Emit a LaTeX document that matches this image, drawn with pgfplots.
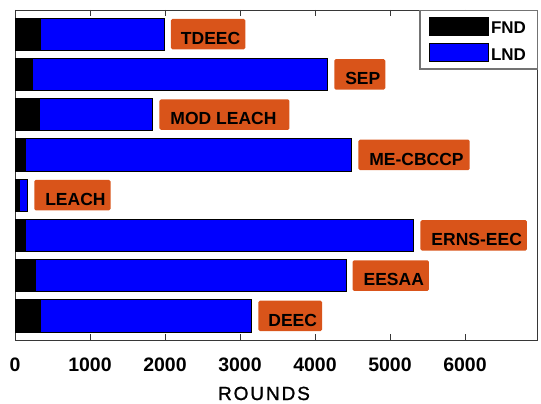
\documentclass[border=0pt]{standalone}
\usepackage{fontspec}
\setmainfont{Liberation Sans}
\newfontfamily\labfont[FakeBold=1.2, LetterSpace=10]{Liberation Sans}
\usepackage{pgfplots}
\pgfplotsset{compat=1.18}
\definecolor{lblorange}{RGB}{217,84,26}
\definecolor{framegray}{RGB}{55,55,55}
\tikzset{lbl/.style={fill=lblorange, inner xsep=0pt, inner ysep=0pt, text height=25.5pt, text depth=5pt,
    font=\bfseries\fontsize{17.5}{18}\selectfont, rounded corners=1.5pt, anchor=west, xshift=6.5pt}}
\begin{document}
\begin{tikzpicture}
\begin{axis}[
  scale only axis, width=522pt, height=330pt,
  xmin=0, xmax=6960, ymin=0.4, ymax=8.6,
  xtick={0,1000,2000,3000,4000,5000,6000}, ytick=\empty,
  xtick pos=both, xticklabel pos=lower,
  tick align=inside, major tick length=6pt,
  scaled ticks=false,
  /pgf/number format/1000 sep={},
  /pgf/number format/assume math mode=true,
  axis line style={framegray, line width=0.8pt},
  every tick/.style={framegray, line width=0.8pt},
  xticklabel style={anchor=base, yshift=-31.7pt, font=\bfseries\fontsize{19.5}{20}\selectfont},
  xlabel={ROUNDS},
  xlabel style={at={(axis description cs:0.477,0)}, anchor=base, yshift=-60pt, font=\labfont\fontsize{19}{20}\selectfont},
  legend image code/.code={\draw[#1, line width=0.6pt] (0pt,-6pt) rectangle (59pt,12pt);},
  legend style={at={(1.002,1)}, anchor=north east, draw=black!55, line width=1.2pt,
    font=\bfseries\fontsize{17}{17}\selectfont, inner xsep=9pt, inner ysep=6pt,
    row sep=6.7pt, nodes={inner xsep=2.5pt, inner ysep=1pt}},
  legend cell align=left,
]
% LND (blue), categories 1=DEEC ... 8=TDEEC
\addplot[xbar, bar width=0.8, bar shift=0pt, fill=blue, draw=black, line width=0.6pt, forget plot]
  coordinates {(3156,1) (4412,2) (5317,3) (168,4) (4489,5) (1837,6) (4168,7) (1990,8)};
% FND (black)
\addplot[xbar, bar width=0.8, bar shift=0pt, fill=black, draw=black, line width=0.6pt, forget plot]
  coordinates {(343,1) (269,2) (131,3) (62,4) (131,5) (324,6) (231,7) (343,8)};
\addlegendimage{fill=black, draw=black}
\addlegendentry{FND}
\addlegendimage{fill=blue, draw=black}
\addlegendentry{LND}
\node[lbl] at (axis cs:3156,1) {\hspace*{10pt}DEEC\hspace*{5pt}};
\node[lbl] at (axis cs:4412,2) {\hspace*{11pt}EESAA\hspace*{5pt}};
\node[lbl] at (axis cs:5317,3) {\hspace*{11pt}ERNS-EEC\hspace*{5pt}};
\node[lbl] at (axis cs:168,4) {\hspace*{11pt}LEACH\hspace*{5pt}};
\node[lbl] at (axis cs:4489,5) {\hspace*{11pt}ME-CBCCP\hspace*{6pt}};
\node[lbl] at (axis cs:1837,6) {\hspace*{11pt}MOD LEACH\hspace*{13pt}};
\node[lbl] at (axis cs:4168,7) {\hspace*{11pt}SEP\hspace*{5pt}};
\node[lbl] at (axis cs:1990,8) {\hspace*{10pt}TDEEC\hspace*{5pt}};
\end{axis}
\pgfresetboundingbox
\path ([shift={(-15pt,-64pt)}]current axis.south west) rectangle ([shift={(4pt,10pt)}]current axis.north east);
\end{tikzpicture}
\end{document}
